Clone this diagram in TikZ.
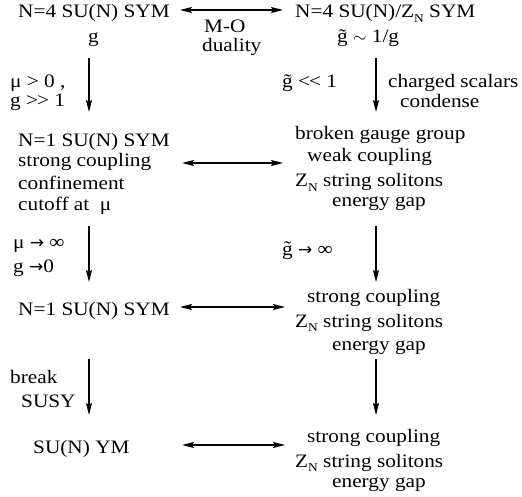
\documentclass[tikz,border=0pt]{standalone}
\usepackage{fontspec}
\setmainfont{Liberation Serif}[FakeStretch=1.12]
\newfontfamily\djv{DejaVu Sans}
\usetikzlibrary{arrows.meta}
\newcommand{\gtil}{\~{g}}
\newcommand{\ZN}{Z\raisebox{-0.22em}{\fontsize{12}{12}\selectfont N}}
\newcommand{\tarr}{{\djv\fontsize{17}{17}\selectfont →}}
\begin{document}
\begin{tikzpicture}[x=1pt,y=-1pt,
  txt/.style={inner sep=0pt, anchor=base west, font=\fontsize{19}{21}\selectfont},
  hd/.style={},
  arr/.style={line width=1.1pt, -{Stealth[length=12pt,width=6pt,inset=2pt]}},
  darr/.style={line width=1.1pt, {Stealth[length=12pt,width=6pt,inset=2pt]}-{Stealth[length=12pt,width=6pt,inset=2pt]}}]
\useasboundingbox (0,0) rectangle (522,497);
% row 1
\node[txt] (t1) at (18,18) {N=4 SU(N) SYM};
\node[txt] (t1g) at (88,43) {g};
\node[txt] (mo) at (204,33) {M-O};
\node[txt] (dual) at (202,52) {duality};
\node[txt] (r1) at (295,18) {N=4 SU(N)/\ZN\ SYM};
\node[txt] (r1g) at (337,43) {\gtil\ $\sim$ 1/g};
\coordinate (h1a) at (180,10);
\coordinate (h1b) at (283,10);
\draw[darr] (h1a) -- (h1b);
% arrows 1 -> 2
\coordinate (v1a) at (89,58);
\coordinate (v1b) at (89,112);
\coordinate (w1a) at (376,58);
\coordinate (w1b) at (376,112);
\draw[arr] (v1a) -- (v1b);
\draw[arr] (w1a) -- (w1b);
\node[txt] (mu1) at (10,88) {μ > 0 ,};
\node[txt] (g1) at (10,107) {g >\kern-1pt> 1};
\node[txt] (gt1) at (282,88) {\gtil\ <\kern-1pt< 1};
\node[txt] (cs1) at (388,88) {charged scalars};
\node[txt] (cs2) at (400,108) {condense};
% row 2
\node[txt] (l2a) at (18,147) {N=1 SU(N) SYM};
\node[txt] (l2b) at (18,167) {strong coupling};
\node[txt] (l2c) at (18,190) {confinement};
\node[txt] (l2d) at (18,211) {cutoff at\ \ μ};
\node[txt] (r2a) at (295,140) {broken gauge group};
\node[txt] (r2b) at (307,162) {weak coupling};
\node[txt] (r2c) at (295,187) {\ZN\ string solitons};
\node[txt] (r2d) at (332,207) {energy gap};
\coordinate (h2a) at (182,163);
\coordinate (h2b) at (283,163);
\draw[darr] (h2a) -- (h2b);
% arrows 2 -> 3
\coordinate (v2a) at (89,226);
\coordinate (v2b) at (89,282);
\coordinate (w2a) at (376,226);
\coordinate (w2b) at (376,282);
\draw[arr] (v2a) -- (v2b);
\draw[arr] (w2a) -- (w2b);
\node[txt] (mu2) at (13,248) {μ \tarr\ ∞};
\node[txt] (g2) at (13,272) {g \tarr 0};
\node[txt] (gt2) at (282,255) {\gtil\ \tarr\ ∞};
% row 3
\node[txt] (l3) at (18,315) {N=1 SU(N) SYM};
\node[txt] (r3a) at (307,302) {strong coupling};
\node[txt] (r3b) at (295,327) {\ZN\ string solitons};
\node[txt] (r3c) at (332,350) {energy gap};
\coordinate (h3a) at (180,307);
\coordinate (h3b) at (285,307);
\draw[darr] (h3a) -- (h3b);
% arrows 3 -> 4
\coordinate (v3a) at (89,359);
\coordinate (v3b) at (89,415);
\coordinate (w3a) at (376,359);
\coordinate (w3b) at (376,415);
\draw[arr] (v3a) -- (v3b);
\draw[arr] (w3a) -- (w3b);
\node[txt] (brk) at (10,383) {break};
\node[txt] (susy) at (21,407) {SUSY};
% row 4
\node[txt] (l4) at (33,453) {SU(N) YM};
\node[txt] (r4a) at (307,442) {strong coupling};
\node[txt] (r4b) at (295,467) {\ZN\ string solitons};
\node[txt] (r4c) at (332,487) {energy gap};
\coordinate (h4a) at (182,445);
\coordinate (h4b) at (285,445);
\draw[darr] (h4a) -- (h4b);
\end{tikzpicture}
\end{document}
